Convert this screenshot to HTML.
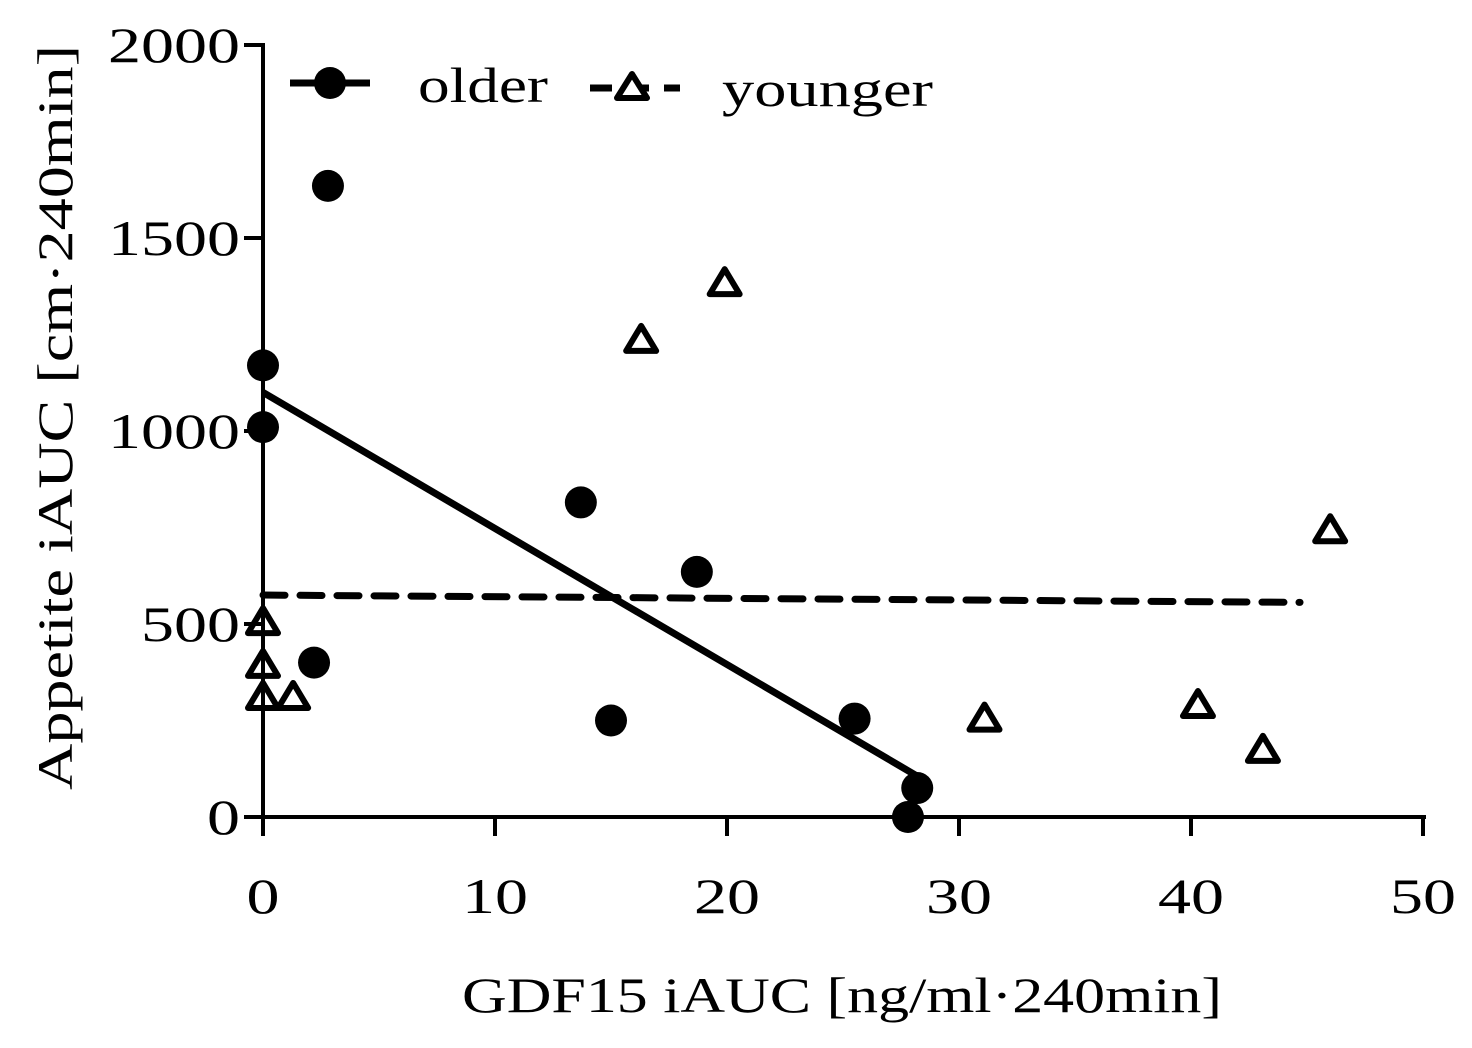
<!DOCTYPE html>
<html><head><meta charset="utf-8"><style>
body{margin:0;background:#fff}
text{font-family:"Liberation Serif",serif;fill:#000}
</style></head><body>
<svg id="chart" width="1472" height="1043" xmlns="http://www.w3.org/2000/svg">
<g id="axes"></g>
<g id="marks"></g>
<g>
  <line x1="290" y1="83" x2="370" y2="83" stroke="#000" stroke-width="7"/>
  <circle cx="330" cy="83" r="16" fill="#000"/>
  <text x="418" y="102" font-size="50" textLength="130" lengthAdjust="spacingAndGlyphs">older</text>
  <line x1="590" y1="88" x2="680" y2="88" stroke="#000" stroke-width="7" stroke-dasharray="22 15"/>
  <polygon points="632,74 647,98 617,98" fill="#fff" stroke="#000" stroke-width="6" stroke-linejoin="round"/>
  <text x="722" y="106" font-size="50" textLength="211" lengthAdjust="spacingAndGlyphs">younger</text>
</g>
<text x="462" y="1012" font-size="50" textLength="760" lengthAdjust="spacingAndGlyphs">GDF15 iAUC [ng/ml·240min]</text>
<text transform="translate(72,790) rotate(-90)" font-size="50" textLength="745" lengthAdjust="spacingAndGlyphs">Appetite iAUC [cm·240min]</text>
</svg>
<script>
const xTicks=[0,10,20,30,40,50];
const yTicks=[0,500,1000,1500,2000];
const olderX=[0,0,2.8,2.2,13.7,15,18.7,25.5,28.2,27.8];
const olderY=[1170,1010,1635,400,815,250,635,255,75,0];
const youngerX=[0,0,0,1.3,16.3,19.9,31.1,40.3,43.1,46];
const youngerY=[505,394,311,311,1236,1383,255,290,174,743];
const olderFitX=[0,28.2];
const olderFitY=[1100,106];
const youngerFitX=[0,44.7];
const youngerFitY=[575,556];
const NS="http://www.w3.org/2000/svg";
const X=v=>263+v*23.2, Y=v=>817-v*0.386;
const axes=document.getElementById('axes'), marks=document.getElementById('marks');
function mk(tag,attrs,parent){const e=document.createElementNS(NS,tag);for(const k in attrs)e.setAttribute(k,attrs[k]);parent.appendChild(e);return e;}
let e=mk('line',{x1:263,y1:Y(0),x2:X(50)+3,y2:Y(0),stroke:'#000','stroke-width':4},axes);


e=mk('line',{x1:263,y1:Y(0)+2,x2:263,y2:Y(2000)-2,stroke:'#000','stroke-width':4},axes);


xTicks.forEach(t=>{
 let l=mk('line',{x1:X(t),y1:Y(0),x2:X(t),y2:Y(0)+19,stroke:'#000','stroke-width':4},axes);
 
 
 const s=String(t);
 let tx=mk('text',{x:X(t),y:913,'font-size':50,'text-anchor':'middle',textLength:s.length*33,lengthAdjust:'spacingAndGlyphs'},axes);tx.textContent=s;
 
 
});
yTicks.forEach(t=>{
 let l=mk('line',{x1:244,y1:Y(t),x2:263,y2:Y(t),stroke:'#000','stroke-width':4},axes);
 
 
 const s=String(t);
 let tx=mk('text',{x:240,y:Y(t)+17,'font-size':50,'text-anchor':'end',textLength:s.length*33,lengthAdjust:'spacingAndGlyphs'},axes);tx.textContent=s;
 
 
});
e=mk('line',{x1:X(olderFitX[0]),y1:Y(olderFitY[0]),x2:X(olderFitX[1]),y2:Y(olderFitY[1]),stroke:'#000','stroke-width':7},marks);


e=mk('line',{x1:X(youngerFitX[0]),y1:Y(youngerFitY[0]),x2:X(youngerFitX[1]),y2:Y(youngerFitY[1]),stroke:'#000','stroke-width':7,'stroke-dasharray':'22 15','stroke-linecap':'round'},marks);


youngerX.forEach((x,i)=>{
 const cx=X(x),cy=Y(youngerY[i]);
 let p=mk('polygon',{points:`${cx},${cy-14} ${cx+15},${cy+11} ${cx-15},${cy+11}`,fill:'none',stroke:'#000','stroke-width':6,'stroke-linejoin':'round'},marks);
 
 
});
olderX.forEach((x,i)=>{
 let c=mk('circle',{cx:X(x),cy:Y(olderY[i]),r:16,fill:'#000'},marks);
 
 
});
</script>
</body></html>
